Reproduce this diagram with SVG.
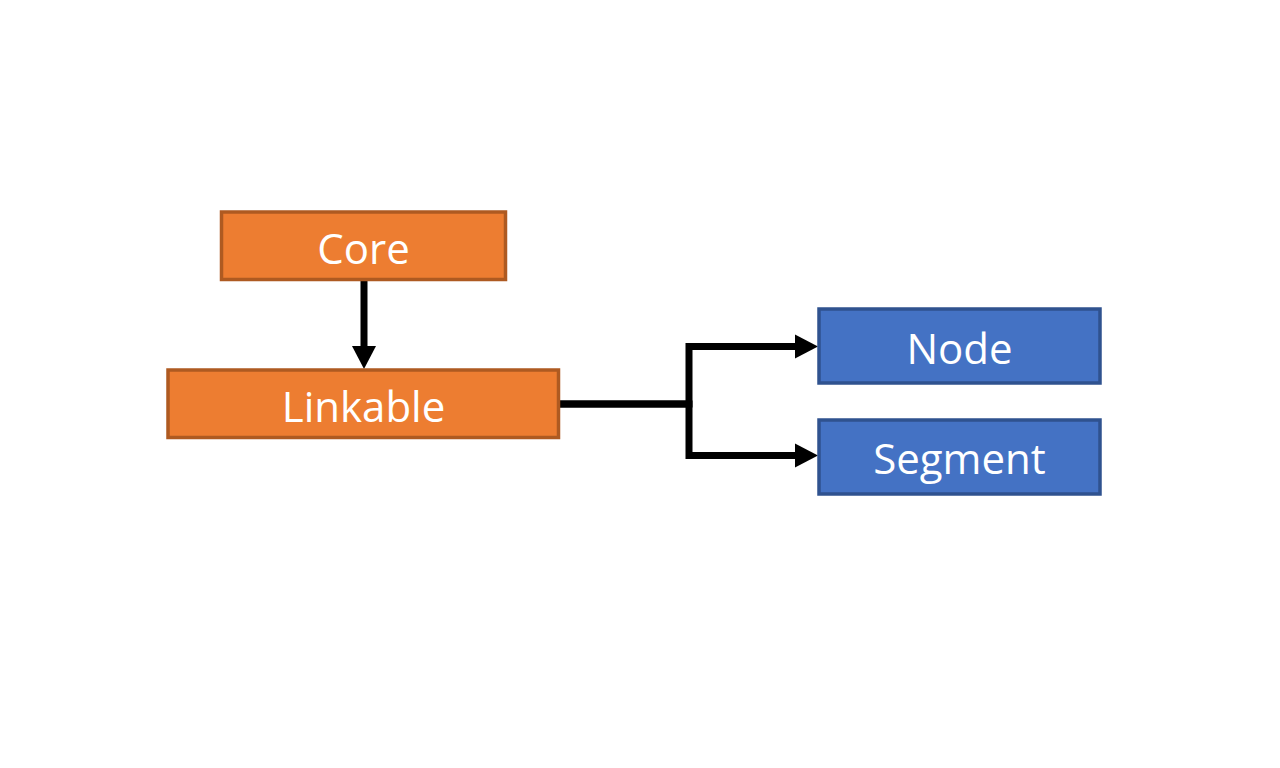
<svg xmlns="http://www.w3.org/2000/svg" width="1280" height="768" viewBox="0 0 1280 768">
<style>
.orange{fill:#ED7D31;stroke:#AE5A21;stroke-width:3.5}
.blue{fill:#4472C4;stroke:#2F528F;stroke-width:3.5}
.lbl{font-family:"Open Sans","Noto Sans","DejaVu Sans",sans-serif;font-size:42px;fill:#FFFFFF;text-anchor:middle}
.conn{fill:none;stroke:#000000;stroke-width:7;stroke-linejoin:miter}
</style>
<defs>
<marker id="ah" markerUnits="userSpaceOnUse" markerWidth="23" markerHeight="24" viewBox="0 0 23 24" refX="0" refY="12" orient="auto" overflow="visible">
<path d="M0,0 L23,12 L0,24 z" fill="#000000"/>
</marker>
</defs>
<rect width="1280" height="768" fill="#FFFFFF"/>
<g id="connectors">
<path class="conn" d="M364 281 V346" marker-end="url(#ah)"/>
<path class="conn" d="M560 404 H689 V346.5 H795" marker-end="url(#ah)"/>
<path class="conn" d="M560 404 H689 V455.5 H795" marker-end="url(#ah)"/>
</g>
<g id="core">
<rect class="orange" x="221.5" y="212" width="284" height="67.5"/>
<text class="lbl" x="363.5" y="264">Core</text>
</g>
<g id="linkable">
<rect class="orange" x="168" y="370" width="390.5" height="67.5"/>
<text class="lbl" x="363.5" y="422">Linkable</text>
</g>
<g id="node">
<rect class="blue" x="819" y="309" width="281" height="74"/>
<text class="lbl" x="959.5" y="364">Node</text>
</g>
<g id="segment">
<rect class="blue" x="819" y="420" width="281" height="74"/>
<text class="lbl" x="959.5" y="474">Segment</text>
</g>
</svg>
